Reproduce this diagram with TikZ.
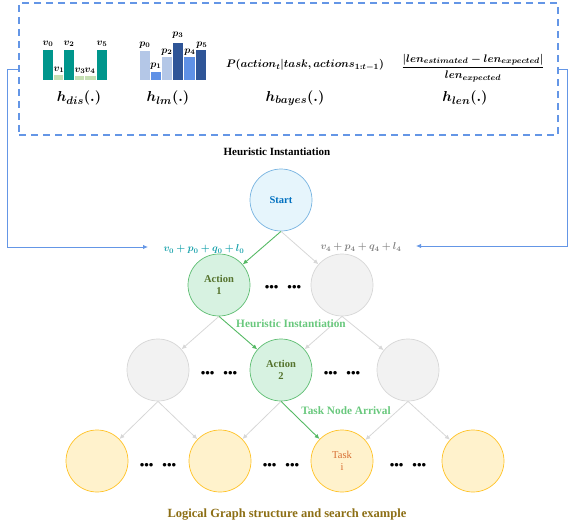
\documentclass[tikz,border=0pt]{standalone}
\usepackage{fontspec}
\setmainfont{Liberation Serif}
\usepackage{amsmath}
\usepackage{bm}
\usetikzlibrary{arrows.meta,positioning}

\definecolor{hblue}{RGB}{100,150,230}
\definecolor{disteal}{RGB}{0,150,140}
\definecolor{dislight}{RGB}{197,224,180}
\definecolor{lmlight}{RGB}{180,199,231}
\definecolor{lmmid}{RGB}{95,145,230}
\definecolor{lmdark}{RGB}{47,85,151}
\definecolor{startfill}{RGB}{230,245,252}
\definecolor{startline}{RGB}{120,180,225}
\definecolor{starttext}{RGB}{0,112,192}
\definecolor{actfill}{RGB}{215,242,225}
\definecolor{actline}{RGB}{95,190,115}
\definecolor{acttext}{RGB}{85,115,45}
\definecolor{grayfill}{RGB}{242,242,242}
\definecolor{grayline}{RGB}{215,215,215}
\definecolor{taskfill}{RGB}{255,242,204}
\definecolor{taskline}{RGB}{255,195,40}
\definecolor{tasktext}{RGB}{215,110,50}
\definecolor{arrgreen}{RGB}{85,185,100}
\definecolor{labgreen}{RGB}{105,200,125}
\definecolor{labteal}{RGB}{20,160,170}
\definecolor{labgray}{RGB}{130,130,130}
\definecolor{captext}{RGB}{140,110,20}

\begin{document}
\begin{tikzpicture}[x=1pt,y=-1pt,>={Latex[length=5pt,width=4.5pt]},
  state/.style={circle,minimum size=62pt,inner sep=0pt,line width=0.7pt,align=center,
    font=\fontsize{10.5}{12}\selectfont\bfseries},
  startnode/.style={state,draw=startline,fill=startfill,text=starttext},
  actnode/.style={state,draw=actline,fill=actfill,text=acttext},
  graynode/.style={state,draw=grayline,fill=grayfill},
  tasknode/.style={state,draw=taskline,fill=taskfill,text=tasktext,font=\fontsize{10.5}{12}\selectfont},
  gedge/.style={->,draw=grayline,line width=0.8pt},
  aedge/.style={->,draw=arrgreen,line width=0.9pt},
  bluelink/.style={->,draw=hblue,line width=0.9pt},
  dots/.style={font=\fontsize{13}{14}\selectfont\bfseries},
  hlabel/.style={font=\fontsize{15}{17}\selectfont},
  barlabel/.style={font=\fontsize{10}{11}\selectfont,inner sep=0pt}]

\useasboundingbox (0,0) rectangle (568,527);

% heuristic box
\node[draw=hblue,line width=1.2pt,dash pattern=on 7pt off 5pt,minimum width=539pt,minimum height=132pt] (hbox) at (288.5,69) {};

% h_dis bars
\fill[disteal] (43,50) rectangle (53,80);
\fill[dislight] (54,75) rectangle (63,80);
\fill[disteal] (64,50) rectangle (74,80);
\fill[dislight] (75,76) rectangle (84,80);
\fill[dislight] (85,76) rectangle (96,80);
\fill[disteal] (97,50) rectangle (107,80);
\node[barlabel] (v0) at (48,44) {$\bm{v_0}$};
\node[barlabel] (v1) at (59,70) {$\bm{v_1}$};
\node[barlabel] (v2) at (69,44) {$\bm{v_2}$};
\node[barlabel] (v3) at (80,71) {$\bm{v_3}$};
\node[barlabel] (v4) at (90,71) {$\bm{v_4}$};
\node[barlabel] (v5) at (102,44) {$\bm{v_5}$};
\node[hlabel] (hdis) at (79,98) {$\bm{h_{dis}(.)}$};

% h_lm bars
\fill[lmlight] (140,51) rectangle (150,80);
\fill[lmmid] (151,72) rectangle (161,80);
\fill[lmlight] (162,57) rectangle (172,80);
\fill[lmdark] (173,43) rectangle (183,80);
\fill[lmmid] (184,57) rectangle (195,80);
\fill[lmdark] (196,50) rectangle (206,80);
\node[barlabel] (p0) at (145,45) {$\bm{p_0}$};
\node[barlabel] (p1) at (156,66) {$\bm{p_1}$};
\node[barlabel] (p2) at (167,52) {$\bm{p_2}$};
\node[barlabel] (p3) at (178,35) {$\bm{p_3}$};
\node[barlabel] (p4) at (190,52) {$\bm{p_4}$};
\node[barlabel] (p5) at (202,45) {$\bm{p_5}$};
\node[hlabel] (hlm) at (168,98) {$\bm{h_{lm}(.)}$};

% h_bayes and h_len
\node[font=\fontsize{11}{12}\selectfont] (pbayes) at (305,65) {$\bm{P(action_t|task,actions_{1:t-1})}$};
\node[hlabel] (hbayes) at (295,98) {$\bm{h_{bayes}(.)}$};
\node[font=\fontsize{11}{12}\selectfont] (plen) at (473,68) {$\bm{\dfrac{|len_{estimated}-len_{expected}|}{len_{expected}}}$};
\node[hlabel] (hlen) at (465,98) {$\bm{h_{len}(.)}$};

\node[font=\fontsize{11}{12}\selectfont\bfseries] (htitle) at (277,152) {Heuristic Instantiation};

% search tree
\node[startnode] (start) at (281,200) {Start};
\node[actnode] (a1) at (219,285) {Action\\1};
\node[graynode] (g1) at (342,285) {};
\node[graynode] (g2l) at (158,370) {};
\node[actnode] (a2) at (281,370) {Action\\2};
\node[graynode] (g2r) at (408,370) {};
\node[tasknode] (y1) at (97,461) {};
\node[tasknode] (y2) at (220,461) {};
\node[tasknode] (task) at (342,461) {Task\\i};
\node[tasknode] (y4) at (473,461) {};

\node[dots] (d1) at (283,288) {•••\hspace{9pt}•••};
\node[dots] (d2) at (219,374) {•••\hspace{9pt}•••};
\node[dots] (d3) at (342,374) {•••\hspace{9pt}•••};
\node[dots] (d4) at (158,466) {•••\hspace{9pt}•••};
\node[dots] (d5) at (281,466) {•••\hspace{9pt}•••};
\node[dots] (d6) at (408,466) {•••\hspace{9pt}•••};

\draw[aedge] (start.south) -- (a1);
\draw[gedge] (start.south) -- (g1);
\draw[gedge] (a1.south) -- (g2l);
\draw[aedge] (a1.south) -- (a2);
\draw[gedge] (g1.south) -- (a2);
\draw[gedge] (g1.south) -- (g2r);
\draw[gedge] (g2l.south) -- (y1);
\draw[gedge] (g2l.south) -- (y2);
\draw[gedge] (a2.south) -- (y2);
\draw[aedge] (a2.south) -- (task);
\draw[gedge] (g2r.south) -- (task);
\draw[gedge] (g2r.south) -- (y4);

% scores and labels
\node[text=labteal,font=\fontsize{10}{11}\selectfont] (s0) at (204,249) {$\bm{v_0+p_0+q_0+l_0}$};
\node[text=labgray,font=\fontsize{10}{11}\selectfont] (s4) at (361,247) {$\bm{v_4+p_4+q_4+l_4}$};
\node[text=labgreen,font=\fontsize{11.3}{12}\selectfont\bfseries] (hinst) at (291,324) {Heuristic Instantiation};
\node[text=labgreen,font=\fontsize{11.3}{12}\selectfont\bfseries] (arrival) at (346,411) {Task Node Arrival};
\node[text=captext,font=\fontsize{12.5}{14}\selectfont\bfseries] (caption) at (287,515) {Logical Graph structure and search example};

% feedback links
\coordinate (lin) at (148,247);
\coordinate (rin) at (416,246);
\draw[bluelink] (hbox.west) -- (7,69) |- (lin);
\draw[bluelink] (hbox.east) -- (567,69) |- (rin);

\end{tikzpicture}
\end{document}
